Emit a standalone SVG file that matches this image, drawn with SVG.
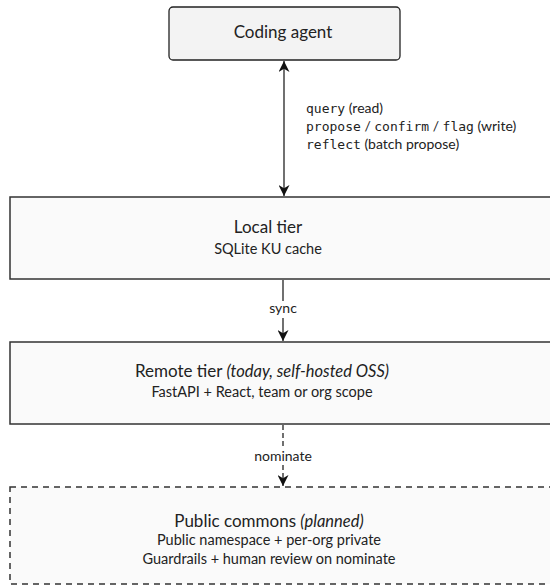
<svg xmlns="http://www.w3.org/2000/svg" width="550" height="586" viewBox="0 0 550 586">
<style>
.t{font-family:Lato,"Noto Sans",sans-serif;fill:#222;text-anchor:middle}
.title{font-size:17px}
.sub{font-size:14.5px}
.lbl{font-family:Lato,"Noto Sans",sans-serif;font-size:14px;fill:#222}
.mono{font-family:"DejaVu Sans Mono","Liberation Mono",monospace;font-size:13px}
.it{font-style:italic;font-size:16.5px}
.box{fill:#fafafa;stroke:#333;stroke-width:1.5}
.edge{stroke:#111;stroke-width:1.2;fill:none}
</style>
<defs>
<marker id="ah" viewBox="0 0 10 10" refX="10" refY="5" markerWidth="11" markerHeight="11" markerUnits="userSpaceOnUse" orient="auto-start-reverse">
<path d="M0,0 L10,5 L0,10 L3,5 Z" fill="#111"/>
</marker>
</defs>
<g id="coding-agent">
<rect x="169" y="7" width="231" height="53" rx="4" fill="#f3f3f3" stroke="#222" stroke-width="1.3"/>
<text class="t title" x="283" y="38">Coding agent</text>
</g>
<g id="local-tier">
<rect class="box" x="10" y="197" width="560" height="82"/>
<text class="t title" x="268" y="233">Local tier</text>
<text class="t sub" x="268" y="254">SQLite KU cache</text>
</g>
<g id="remote-tier">
<rect class="box" x="10" y="342" width="560" height="82"/>
<text class="t title" x="262" y="377">Remote tier <tspan class="it">(today, self-hosted OSS)</tspan></text>
<text class="t sub" x="262" y="397">FastAPI + React, team or org scope</text>
</g>
<g id="public-commons">
<rect class="box" x="10" y="487" width="560" height="97" stroke-dasharray="6 5" fill="#fbfbfb"/>
<text class="t title" x="269" y="527">Public commons <tspan class="it">(planned)</tspan></text>
<text class="t sub" x="269" y="545">Public namespace + per-org private</text>
<text class="t sub" x="269" y="564">Guardrails + human review on nominate</text>
</g>
<g id="connectors">
<line class="edge" x1="284" y1="61" x2="284" y2="196" marker-start="url(#ah)" marker-end="url(#ah)"/>
<text class="lbl" x="306" y="113"><tspan class="mono">query</tspan> (read)</text>
<text class="lbl" x="306" y="131"><tspan class="mono">propose</tspan> / <tspan class="mono">confirm</tspan> / <tspan class="mono">flag</tspan> (write)</text>
<text class="lbl" x="306" y="149"><tspan class="mono">reflect</tspan> (batch propose)</text>
<line class="edge" x1="283" y1="280" x2="283" y2="301"/>
<line class="edge" x1="283" y1="318" x2="283" y2="341" marker-end="url(#ah)"/>
<text class="lbl" x="283" y="313" text-anchor="middle">sync</text>
<line class="edge" x1="283" y1="425" x2="283" y2="448" stroke-dasharray="5 3"/>
<line class="edge" x1="283" y1="465" x2="283" y2="486" stroke-dasharray="5 3" marker-end="url(#ah)"/>
<text class="lbl" x="283" y="461" text-anchor="middle">nominate</text>
</g>
</svg>
